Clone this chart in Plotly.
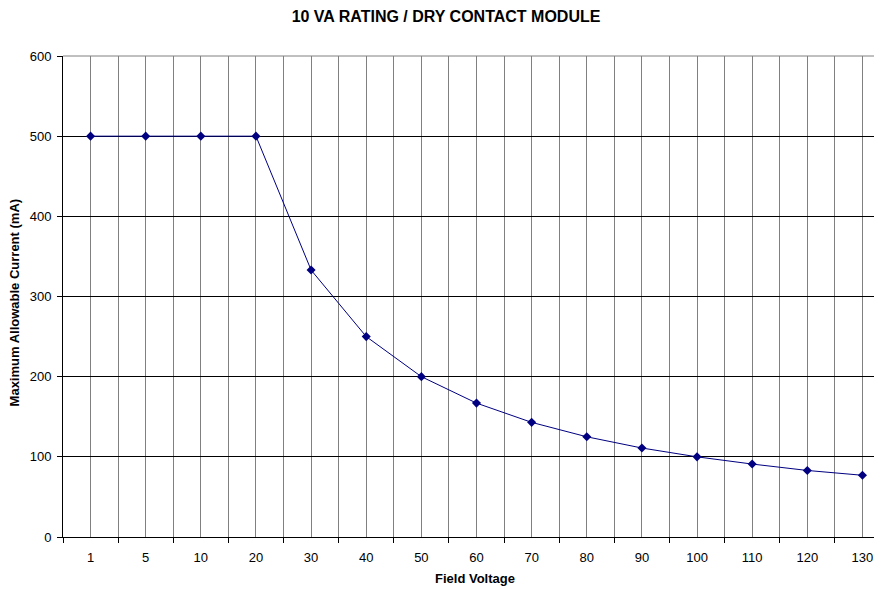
import plotly.graph_objects as go

voltages = ["1", "5", "10", "20", "30", "40", "50", "60", "70", "80", "90", "100", "110", "120", "130"]
current_ma = [500, 500, 500, 500, 333, 250, 200, 167, 143, 125, 111, 100, 91, 83, 77]
y_ticks = [0, 100, 200, 300, 400, 500, 600]

idx = list(range(len(voltages)))
boundaries = [i - 0.5 for i in range(len(voltages) + 1)]

fig = go.Figure()
fig.add_trace(go.Scatter(
    x=idx, y=current_ma, mode="lines+markers",
    line=dict(color="#000080", width=1),
    marker=dict(symbol="diamond", size=7, color="#000080"),
    showlegend=False, hoverinfo="skip",
))

font = "Liberation Sans, Arial, sans-serif"
fig.update_layout(
    width=882, height=589,
    margin=dict(l=55, r=0, t=48, b=60, autoexpand=False),
    paper_bgcolor="white", plot_bgcolor="white",
    font=dict(family=font, size=13, color="black"),
    title=dict(text="<b>10 VA RATING / DRY CONTACT MODULE</b>", x=0.4966, xanchor="center",
               y=1 - 8 / 589, yanchor="middle", font=dict(size=16, family=font, color="black")),
    xaxis=dict(
        range=[-0.5, 14.5],
        tickmode="array", tickvals=idx, ticktext=voltages,
        showgrid=True, gridcolor="#808080", gridwidth=1,
        ticks="", showline=True, linecolor="black", linewidth=1,
        zeroline=False,
        minor=dict(tickmode="array", tickvals=boundaries, showgrid=True, gridcolor="#808080",
                   gridwidth=1, ticks="outside", ticklen=5, tickcolor="black"),
        ticklabelstandoff=8,
        tickfont=dict(size=13, family=font),
        automargin=False,
        fixedrange=True,
    ),
    yaxis=dict(
        range=[0, 600], tickmode="array", tickvals=y_ticks,
        showgrid=True, gridcolor="black", gridwidth=1,
        ticks="outside", ticklen=5, tickcolor="black",
        showline=True, linecolor="black", linewidth=1,
        zeroline=False,
        ticklabelstandoff=3,
        tickfont=dict(size=13, family=font),
        automargin=False,
        fixedrange=True,
    ),
    annotations=[
        dict(text="<b>Field Voltage</b>", xref="paper", yref="paper", x=0.498, y=-0.0873,
             xanchor="center", yanchor="middle", showarrow=False, font=dict(size=13, family=font)),
        dict(text="<b>Maximum Allowable Current (mA)</b>", xref="paper", yref="paper", x=-0.0575, y=0.4886,
             xanchor="center", yanchor="middle", textangle=-90, showarrow=False, font=dict(size=13, family=font)),
    ],
)
fig.add_shape(type="line", xref="paper", yref="paper", x0=0, x1=1, y0=1, y1=1,
              line=dict(color="#808080", width=1))

fig.write_html("out.html")
